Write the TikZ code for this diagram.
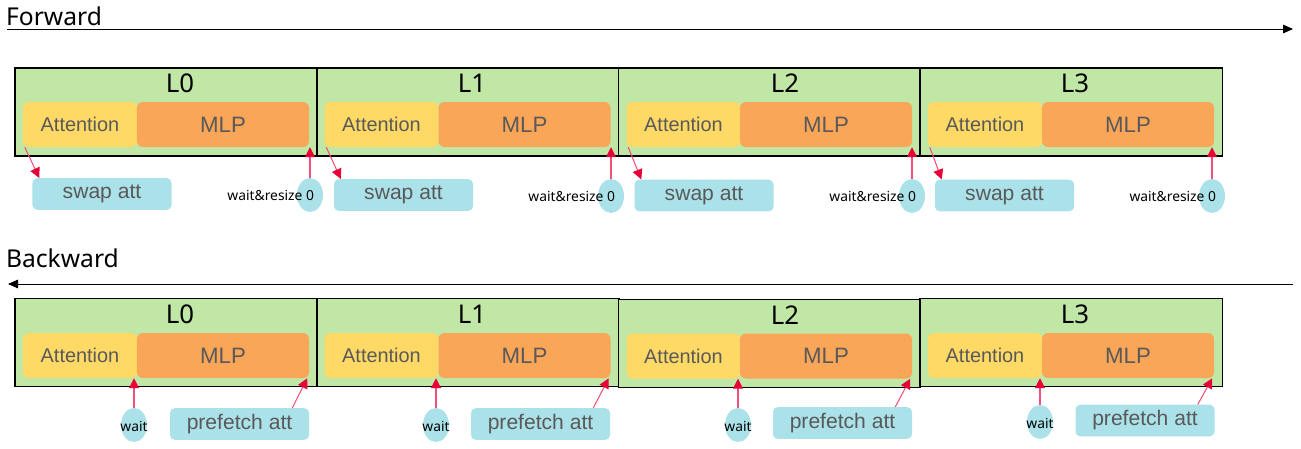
\documentclass[tikz,border=0pt]{standalone}
\usepackage{fontspec}
\setmainfont{Liberation Sans}
\newfontfamily\headfont{Noto Sans}
\usetikzlibrary{arrows.meta,shapes.geometric}
\definecolor{layergreen}{RGB}{193,231,166}
\definecolor{attyellow}{RGB}{255,217,102}
\definecolor{mlporange}{RGB}{250,166,88}
\definecolor{opblue}{RGB}{171,225,233}
\definecolor{labgray}{RGB}{89,89,89}
\definecolor{linkpink}{RGB}{240,80,120}
\definecolor{linkred}{RGB}{232,0,56}
\tikzset{
  layer/.style={draw=black,line width=0.9pt,fill=layergreen,minimum width=9.06cm,
                minimum height=2.64cm,inner sep=0pt},
  lname/.style={font=\headfont\fontsize{22}{25}\selectfont},
  attn/.style={fill=attyellow,rounded corners=5pt,minimum width=3.42cm,minimum height=1.35cm,
               inner sep=0pt,text=labgray,font=\fontsize{17}{20}\selectfont},
  mlp/.style={attn,fill=mlporange,minimum width=5.16cm,font=\fontsize{19}{22}\selectfont},
  op/.style={fill=opblue,rounded corners=4pt,minimum width=4.17cm,minimum height=0.95cm,
             inner sep=0pt,text=labgray,font=\fontsize{18}{21}\selectfont},
  tag/.style={ellipse,fill=opblue,minimum width=0.78cm,minimum height=1.02cm,inner sep=0pt},
  small/.style={font=\headfont\fontsize{11.8}{13}\selectfont,inner sep=0pt},
  link/.style={draw=linkpink,line width=0.9pt,-{Triangle[color=linkred,length=3mm,width=3mm]}},
  axis/.style={line width=0.7pt,-{Triangle[length=3mm,width=2.6mm]}},
  title/.style={font=\headfont\fontsize{21}{24}\selectfont,anchor=west},
}

\begin{document}
\begin{tikzpicture}[x=0.03cm,y=-0.03cm]
  \path[use as bounding box] (0,0) rectangle (1301,448);

  % forward pass
  \node[title] (fwd) at (2,16) {Forward};
  \coordinate (fa) at (7,29);
  \coordinate (fb) at (1293,29);
  \draw[axis] (fa) -- (fb);

  \node[layer] (fl0) at (166,112) {};
  \node[layer] (fl1) at (468,112) {};
  \node[layer] (fl2) at (769.5,112) {};
  \node[layer] (fl3) at (1071,112) {};
  \node[lname] (fn0) at (180,83) {L0};
  \node[lname] (fn1) at (472,83) {L1};
  \node[lname] (fn2) at (785,83) {L2};
  \node[lname] (fn3) at (1075,83) {L3};

  \node[attn] (fa0) at (80,124.5) {Attention};
  \node[mlp]  (fm0) at (223,124.5) {MLP};
  \node[attn] (fa1) at (381.5,124.5) {Attention};
  \node[mlp]  (fm1) at (524.5,124.5) {MLP};
  \node[attn] (fa2) at (683.5,124.5) {Attention};
  \node[mlp]  (fm2) at (826,124.5) {MLP};
  \node[attn] (fa3) at (985,124.5) {Attention};
  \node[mlp]  (fm3) at (1128,124.5) {MLP};

  \node[op] (fs0) at (102,194) {swap att};
  \node[op] (fs1) at (403.5,195) {swap att};
  \node[op] (fs2) at (704,195.5) {swap att};
  \node[op] (fs3) at (1004.5,195.5) {swap att};

  \node[tag] (fw0) at (310,195) {};
  \node[tag] (fw1) at (611,196) {};
  \node[tag] (fw2) at (912,196) {};
  \node[tag] (fw3) at (1212,196) {};
  \node[small,anchor=east] (ft0) at ([xshift=-0.27cm]fw0.east) {wait\&resize 0};
  \node[small,anchor=east] (ft1) at ([xshift=-0.27cm]fw1.east) {wait\&resize 0};
  \node[small,anchor=east] (ft2) at ([xshift=-0.27cm]fw2.east) {wait\&resize 0};
  \node[small,anchor=east] (ft3) at ([xshift=-0.27cm]fw3.east) {wait\&resize 0};

  \draw[link] ([xshift=0.06cm]fa0.south west) -- ([xshift=0.21cm]fs0.north west);
  \draw[link] ([xshift=0.06cm]fa1.south west) -- ([xshift=0.21cm]fs1.north west);
  \draw[link] ([xshift=0.06cm]fa2.south west) -- ([xshift=0.21cm]fs2.north west);
  \draw[link] ([xshift=0.06cm]fa3.south west) -- ([xshift=0.21cm]fs3.north west);
  \draw[link] (fw0.north) -- (fw0.north |- fm0.south);
  \draw[link] (fw1.north) -- (fw1.north |- fm1.south);
  \draw[link] (fw2.north) -- (fw2.north |- fm2.south);
  \draw[link] (fw3.north) -- (fw3.north |- fm3.south);

  % backward pass
  \node[title] (bwd) at (2,258) {Backward};
  \coordinate (ba) at (1293,284);
  \coordinate (bb) at (8,284);
  \draw[axis] (ba) -- (bb);

  \node[layer] (bl0) at (166,342.5) {};
  \node[layer] (bl1) at (468,342.5) {};
  \node[layer] (bl2) at (769.5,343.5) {};
  \node[layer] (bl3) at (1071,342.5) {};
  \node[lname] (bn0) at (180,314) {L0};
  \node[lname] (bn1) at (472,314) {L1};
  \node[lname] (bn2) at (785,315) {L2};
  \node[lname] (bn3) at (1075,314) {L3};

  \node[attn] (ba0) at (80,355.5) {Attention};
  \node[mlp]  (bm0) at (223,355.5) {MLP};
  \node[attn] (ba1) at (381.5,355.5) {Attention};
  \node[mlp]  (bm1) at (524.5,355.5) {MLP};
  \node[attn] (ba2) at (683.5,356) {Attention};
  \node[mlp]  (bm2) at (826,356) {MLP};
  \node[attn] (ba3) at (985,355.5) {Attention};
  \node[mlp]  (bm3) at (1128,355.5) {MLP};

  \node[tag] (bw0) at (134,425) {};
  \node[tag] (bw1) at (436,425) {};
  \node[tag] (bw2) at (738,425) {};
  \node[tag] (bw3) at (1040,422) {};
  \node[small] (bt0) at ([yshift=-0.05cm]bw0) {wait};
  \node[small] (bt1) at ([yshift=-0.05cm]bw1) {wait};
  \node[small] (bt2) at ([yshift=-0.05cm]bw2) {wait};
  \node[small] (bt3) at ([yshift=-0.05cm]bw3) {wait};

  \node[op] (bp0) at (239.5,424) {prefetch att};
  \node[op] (bp1) at (540.5,424) {prefetch att};
  \node[op] (bp2) at (842.5,423) {prefetch att};
  \node[op] (bp3) at (1145,420.5) {prefetch att};

  \draw[link] (bw0.north) -- (bw0.north |- ba0.south);
  \draw[link] (bw1.north) -- (bw1.north |- ba1.south);
  \draw[link] (bw2.north) -- (bw2.north |- ba2.south);
  \draw[link] (bw3.north) -- (bw3.north |- ba3.south);
  \draw[link] ([xshift=-0.51cm]bp0.north east) -- ([xshift=-0.06cm]bm0.south east);
  \draw[link] ([xshift=-0.51cm]bp1.north east) -- ([xshift=-0.06cm]bm1.south east);
  \draw[link] ([xshift=-0.51cm]bp2.north east) -- ([xshift=-0.06cm]bm2.south east);
  \draw[link] ([xshift=-0.51cm]bp3.north east) -- ([xshift=-0.06cm]bm3.south east);
\end{tikzpicture}
\end{document}
